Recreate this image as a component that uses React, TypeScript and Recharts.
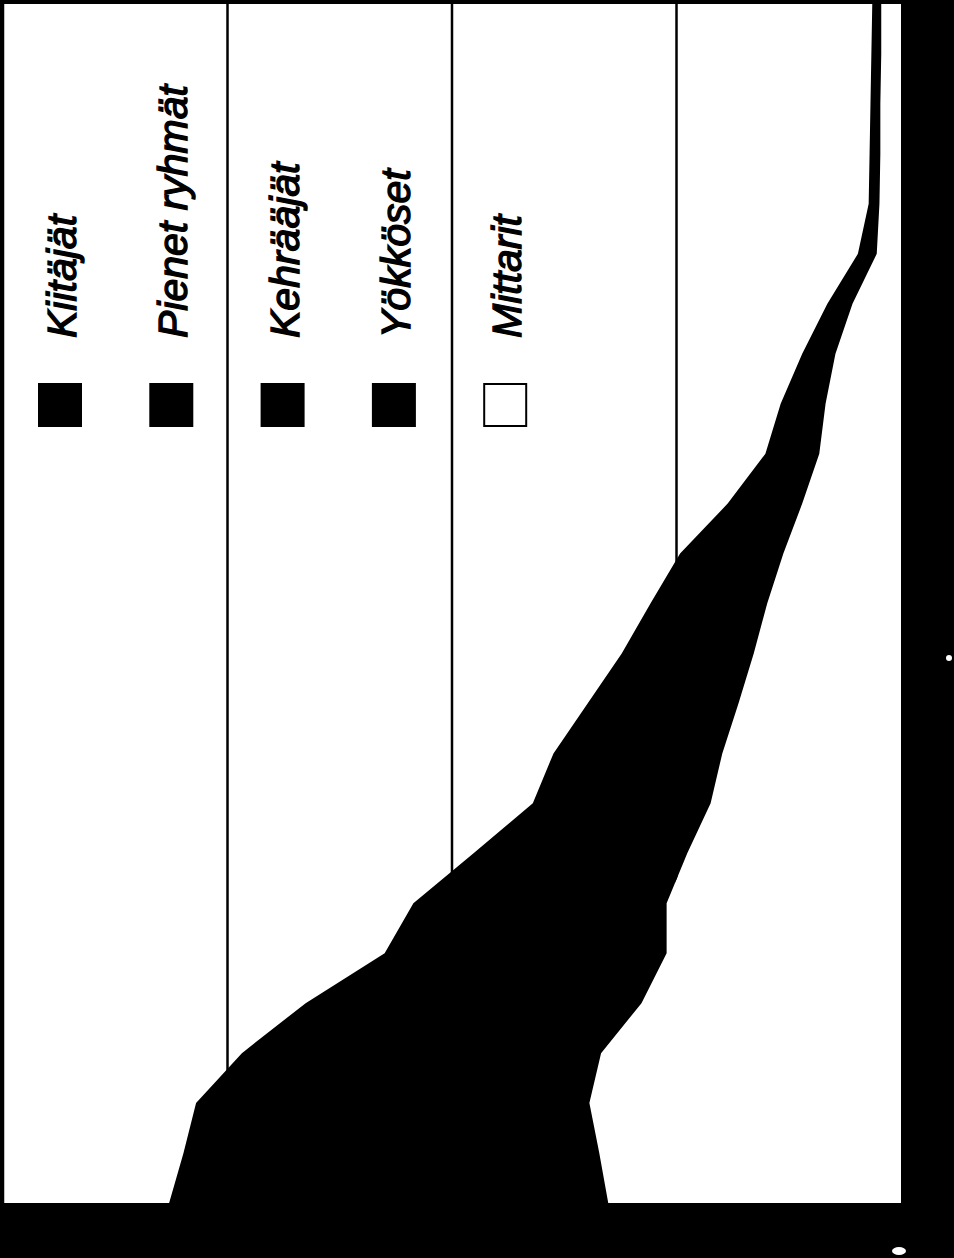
import { Area, AreaChart, CartesianGrid, XAxis, YAxis } from "recharts";

// Rotated stacked-area chart: categories run bottom -> top, share (%) grows leftwards.
const periods = [
  "1", "2", "3", "4", "5", "6", "7", "8", "9", "10", "11", "12", "13",
  "14", "15", "16", "17", "18", "19", "20", "21", "22", "23", "24", "25",
];

// White bottom layer
const mittarit = [
  32.6, 33.6, 34.7, 33.4, 28.9, 26.1, 26.1, 23.8, 21.2, 19.9, 18.1, 16.4, 14.9,
  13.1, 11.0, 9.1, 8.4, 7.3, 5.4, 2.7, 2.4, 2.3, 2.3, 2.2, 2.2,
];

// The four black groups are drawn in the same black, so only their sum can be read
const mustatRyhmat = [
  48.9, 46.3, 43.8, 40.0, 37.4, 31.4, 28.2, 23.8, 19.8, 18.8, 16.8, 14.7, 13.0,
  11.5, 8.3, 6.0, 5.0, 3.7, 2.8, 2.1, 1.2, 1.2, 1.1, 1.1, 1.0,
];

const valueTicks = [0, 25, 50, 75, 100];

const legendNames = ["Kiitäjät", "Pienet ryhmät", "Kehrääjät", "Yökköset", "Mittarit"];
const legendFills = ["#000", "#000", "#000", "#000", "#fff"];

const data = periods.map((period, i) => ({
  period,
  mittarit: mittarit[i],
  mustat: mustatRyhmat[i],
}));

function RotatedLegend() {
  return (
    <g>
      {legendNames.map((name, i) => {
        const cx = 60 + i * 111.3;
        return (
          <g key={name}>
            <rect
              x={cx - 21}
              y={384}
              width={42}
              height={42}
              fill={legendFills[i]}
              stroke="#000"
              strokeWidth={2}
            />
            <text
              x={cx + 16}
              y={338}
              transform={`rotate(-90 ${cx + 16} 338)`}
              fontFamily="'Liberation Sans', Arial, sans-serif"
              fontStyle="italic"
              fontSize={41}
              fill="#000"
              stroke="#000"
              strokeWidth={1.4}
            >
              {name}
            </text>
          </g>
        );
      })}
      <ellipse cx={949} cy={658} rx={3} ry={3} fill="#fff" />
      <ellipse cx={899} cy={1251} rx={7} ry={4} fill="#fff" />
    </g>
  );
}

export default function App() {
  return (
    <div
      style={{
        position: "absolute",
        left: 0,
        top: 0,
        width: 954,
        height: 1258,
        background: "#000",
      }}
    >
      <AreaChart
        width={954}
        height={1258}
        data={data}
        layout="vertical"
        margin={{ top: 4, right: 53, bottom: 55, left: 3 }}
      >
        <CartesianGrid horizontal={false} stroke="#000" strokeWidth={2.5} fill="#fff" fillOpacity={1} />
        <XAxis type="number" domain={[0, 100]} ticks={valueTicks} reversed hide />
        <YAxis type="category" dataKey="period" scale="point" reversed hide />
        <Area
          dataKey="mittarit"
          stackId="a"
          type="linear"
          fill="#fff"
          fillOpacity={1}
          stroke="none"
          isAnimationActive={false}
        />
        <Area
          dataKey="mustat"
          stackId="a"
          type="linear"
          fill="#000"
          fillOpacity={1}
          stroke="none"
          isAnimationActive={false}
        />
        <RotatedLegend />
      </AreaChart>
    </div>
  );
}
